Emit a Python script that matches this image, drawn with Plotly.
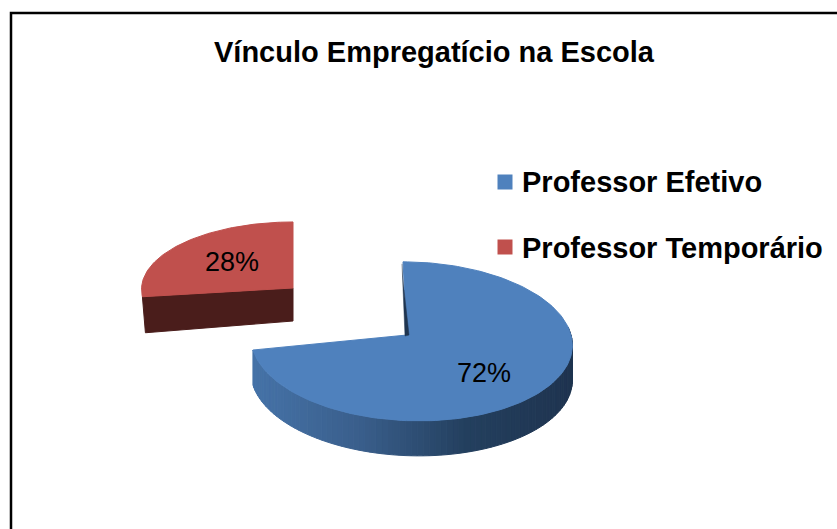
import numpy as np
import plotly.graph_objects as go

# Chart data
title_text = "Vínculo Empregatício na Escola"
categories = ["Professor Efetivo", "Professor Temporário"]
shares = [72, 28]
colors = ["#4F81BD", "#C0504D"]

WIDTH, HEIGHT = 837, 529
PERSPECTIVE = 0.08


def rim_point(theta, cx, cy, a, b, skew=0):
    """Point of the tilted pie rim; theta in radians, clockwise from the back."""
    scale = 1 / (1 + PERSPECTIVE * np.cos(theta))
    return cx + a * np.sin(theta) * scale - skew * np.cos(theta), cy - b * np.cos(theta) * scale


def polygon(xs, ys, color, line_width=1):
    return go.Scatter(x=list(xs), y=list(ys), mode="lines", fill="toself", fillcolor=color,
                      line=dict(color=color, width=line_width), showlegend=False, hoverinfo="skip")


def wall_color(x, left=253, right=572):
    # side of the pie gets darker towards the right
    stops = np.array([[70, 115, 168], [58, 95, 140], [36, 64, 95], [31, 52, 80]])
    pos = np.clip((x - left) / (right - left), 0, 1) * (len(stops) - 1)
    i = min(int(pos), len(stops) - 2)
    c = stops[i] + (stops[i + 1] - stops[i]) * (pos - i)
    return "rgb({},{},{})".format(*[int(v) for v in c])


fig = go.Figure()

# fractions of the circle come from the shares
end_angle = 2 * np.pi * shares[0] / sum(shares)

# --- blue slice ---
bx, by, ba, bb, bdepth, bskew = 411, 335, 160, 79, 35, 8
apex_x = 407
blue_theta = np.linspace(0, end_angle, 160)
top_x, top_y = rim_point(blue_theta, bx, by, ba, bb, bskew)

# outer wall, drawn as thin strips for the gradient
wall_theta = np.linspace(np.pi / 2 - 0.1, end_angle, 90)
wx, wy = rim_point(wall_theta, bx, by, ba, bb, bskew)
for i in range(len(wall_theta) - 1):
    fig.add_trace(polygon([wx[i], wx[i + 1], wx[i + 1], wx[i], wx[i]],
                          [wy[i], wy[i + 1], wy[i + 1] + bdepth, wy[i] + bdepth, wy[i]],
                          wall_color((wx[i] + wx[i + 1]) / 2)))

fig.add_trace(polygon(np.r_[apex_x, top_x, apex_x], np.r_[by, top_y, by], colors[0]))
# sliver of the inner wall at the top edge
fig.add_trace(polygon([top_x[0] - 1, apex_x - 2, apex_x + 2, top_x[0] + 1],
                      [top_y[0] + 2, by + 1, by, top_y[0] + 28], "#1F3550", line_width=0.5))

# --- red slice, pulled away from the centre ---
rx, ry, ra, rb, rdepth = 293, 284, 151, 67, 33
red_theta = np.linspace(end_angle, 2 * np.pi, 80)
red_x, red_y = rim_point(red_theta, rx, ry, ra, rb)
apex_y = ry + 4
fig.add_trace(polygon([rx, red_x[0], red_x[0] + 3, rx, rx],
                      [apex_y, red_y[0], red_y[0] + rdepth + 3, apex_y + rdepth, apex_y], "#4A1D1B"))
fig.add_trace(polygon(np.r_[rx, red_x, rx], np.r_[apex_y, red_y, apex_y], colors[1]))

# --- legend squares ---
legend_y = [182, 247]
fig.add_trace(go.Scatter(x=[505, 505], y=legend_y, mode="markers",
                         marker=dict(symbol="square", size=15, color=colors),
                         showlegend=False, hoverinfo="skip"))

# --- frame, only the left and top sides are in the picture ---
fig.add_trace(go.Scatter(x=[11, 11, WIDTH], y=[HEIGHT, 13, 13], mode="lines",
                         line=dict(color="black", width=2.5), showlegend=False, hoverinfo="skip"))

annotations = [
    dict(x=434, y=52, text=title_text, font=dict(size=29, color="black"), xanchor="center"),
    dict(x=520, y=182, text=categories[0], font=dict(size=29, color="black"), xanchor="left"),
    dict(x=520, y=248, text=categories[1], font=dict(size=29, color="black"), xanchor="left"),
    dict(x=484, y=373, text=f"{shares[0]}%", font=dict(size=27, color="black"), xanchor="center", bold=False),
    dict(x=232, y=262, text=f"{shares[1]}%", font=dict(size=27, color="black"), xanchor="center", bold=False),
]
for ann in annotations:
    bold = ann.pop("bold", True)
    if bold:
        ann["text"] = f"<b>{ann['text']}</b>"
    fig.add_annotation(showarrow=False, yanchor="middle", **ann)

fig.update_layout(
    width=WIDTH, height=HEIGHT,
    margin=dict(l=0, r=0, t=0, b=0),
    paper_bgcolor="white", plot_bgcolor="white",
    font=dict(family="Liberation Sans, Arial, sans-serif"),
    xaxis=dict(range=[0, WIDTH], visible=False, fixedrange=True),
    yaxis=dict(range=[HEIGHT, 0], visible=False, fixedrange=True),
    showlegend=False,
)

# page body has a default margin that would shift the figure
fig.write_html("out.html", config=dict(displayModeBar=False),
               post_script="document.body.style.margin='0';document.body.style.overflow='hidden';")
